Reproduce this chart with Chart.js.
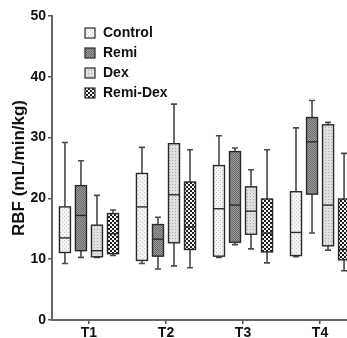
<!DOCTYPE html>
<html>
<head>
<meta charset="utf-8">
<script src="https://cdn.jsdelivr.net/npm/chart.js@4.4.1/dist/chart.umd.min.js"></script>
<style>
  html, body { margin: 0; padding: 0; background: #fff; }
  #wrap { width: 347px; height: 338px; }
</style>
</head>
<body>
<div id="wrap"><canvas id="rbfChart" width="347" height="338"></canvas></div>
<script>
// 시점 / 그룹
const timeLabels = ['T1', 'T2', 'T3', 'T4'];
const groupNames = ['Control', 'Remi', 'Dex', 'Remi-Dex'];

// [min, Q1, median, Q3, max] per time point
const control = [[9.3, 11.1, 13.5, 18.6, 29.2], [9.3, 9.8, 18.6, 24.1, 28.4], [10.3, 10.5, 18.3, 25.4, 30.3], [10.4, 10.6, 14.4, 21.1, 31.6]];
const remi    = [[10.3, 11.4, 17.2, 22.1, 26.2], [8.4, 10.5, 13.3, 15.7, 16.9], [12.4, 12.8, 18.9, 27.7, 28.3], [14.3, 20.7, 29.3, 33.3, 36.1]];
const dex     = [[10.3, 10.4, 11.4, 15.6, 20.5], [8.9, 12.7, 20.6, 29.0, 35.5], [11.7, 14.1, 17.9, 21.9, 24.7], [11.5, 12.2, 18.9, 32.1, 32.5]];
const remiDex = [[10.6, 10.9, 14.2, 17.5, 18.1], [8.6, 11.6, 15.3, 22.7, 28.0], [9.4, 11.2, 14.3, 19.9, 28.0], [8.1, 9.9, 11.6, 19.9, 27.4]];
const yTicks = [0, 10, 20, 30, 40, 50];

const series = [control, remi, dex, remiDex];
const groupOffsets = [-0.312, -0.104, 0.104, 0.312];
const boxWidth = 0.143;

const FONT = "'Liberation Sans', Arial, sans-serif";

// 패턴 만들기
function makePattern(size, draw) {
    const c = document.createElement('canvas');
    c.width = size; c.height = size;
    const g = c.getContext('2d');
    draw(g);
    return c;
}

const tiles = [
    makePattern(4, g => {
        g.fillStyle = '#f4f4f4'; g.fillRect(0, 0, 4, 4);
        g.fillStyle = '#c4c4c4'; g.fillRect(0, 0, 1, 1); g.fillRect(2, 2, 1, 1);
    }),
    makePattern(2, g => {
        g.fillStyle = '#9c9c9c'; g.fillRect(0, 0, 2, 2);
        g.fillStyle = '#6a6a6a'; g.fillRect(0, 0, 1, 1); g.fillRect(1, 1, 1, 1);
    }),
    makePattern(3, g => {
        g.fillStyle = '#e0e0e0'; g.fillRect(0, 0, 3, 3);
        g.fillStyle = '#a8a8a8'; g.fillRect(1, 1, 1, 1);
    }),
    makePattern(4, g => {
        g.fillStyle = '#f6f6f6'; g.fillRect(0, 0, 4, 4);
        g.fillStyle = '#1e1e1e'; g.fillRect(0, 0, 2, 2); g.fillRect(2, 2, 2, 2);
    })
];

const boxPlotPlugin = {
    id: 'boxPlot',
    afterDatasetsDraw(chart) {
        const ctx = chart.ctx;
        const x = chart.scales.x;
        const y = chart.scales.y;
        const area = chart.chartArea;

        ctx.save();
        ctx.beginPath();
        ctx.rect(area.left, 0, chart.width - area.left, area.bottom);
        ctx.clip();

        series.forEach((data, si) => {
            const pattern = ctx.createPattern(tiles[si], 'repeat');
            data.forEach((d, ti) => {
                const pos = ti + 1 + groupOffsets[si];
                const cx = x.getPixelForValue(pos);
                const half = (x.getPixelForValue(pos + boxWidth / 2) - x.getPixelForValue(pos - boxWidth / 2)) / 2;
                const [mn, q1, med, q3, mx] = d.map(v => y.getPixelForValue(v));

                // 수염
                ctx.strokeStyle = '#4a4a4a';
                ctx.lineWidth = 1.6;
                ctx.beginPath();
                ctx.moveTo(cx, mx); ctx.lineTo(cx, q3);
                ctx.moveTo(cx, q1); ctx.lineTo(cx, mn);
                ctx.moveTo(cx - 3, mx); ctx.lineTo(cx + 3, mx);
                ctx.moveTo(cx - 3, mn); ctx.lineTo(cx + 3, mn);
                ctx.stroke();

                // 상자
                ctx.fillStyle = pattern;
                ctx.fillRect(cx - half, q3, half * 2, q1 - q3);
                ctx.strokeStyle = '#2a2a2a';
                ctx.lineWidth = 1.4;
                ctx.strokeRect(cx - half, q3, half * 2, q1 - q3);

                // 중앙값
                ctx.beginPath();
                ctx.moveTo(cx - half, med); ctx.lineTo(cx + half, med);
                ctx.stroke();
            });
        });
        ctx.restore();

        // 범례
        ctx.save();
        ctx.font = 'bold 14px ' + FONT;
        ctx.textBaseline = 'middle';
        groupNames.forEach((name, i) => {
            const top = 28 + i * 20;
            ctx.fillStyle = ctx.createPattern(tiles[i], 'repeat');
            ctx.fillRect(85, top, 10, 10);
            ctx.strokeStyle = '#2a2a2a';
            ctx.lineWidth = 1.2;
            ctx.strokeRect(85, top, 10, 10);
            ctx.fillStyle = '#111';
            ctx.fillText(name, 103, top + 5.5);
        });
        ctx.restore();
    }
};

const ctx = document.getElementById('rbfChart').getContext('2d');
new Chart(ctx, {
    type: 'scatter',
    data: {
        datasets: series.map((data, si) => ({
            label: groupNames[si],
            data: data.map((d, ti) => ({ x: ti + 1 + groupOffsets[si], y: d[2] })),
            pointRadius: 0,
            showLine: false
        }))
    },
    options: {
        responsive: false,
        animation: false,
        layout: { padding: { top: 16, right: 0, bottom: 0, left: 0 } },
        plugins: {
            legend: { display: false },
            tooltip: { enabled: false }
        },
        scales: {
            x: {
                type: 'linear',
                min: 0.52,
                max: 4.35,
                afterBuildTicks: scale => {
                    scale.ticks = timeLabels.map((t, i) => ({ value: i + 1 }));
                },
                afterFit: scale => { scale.height = 18; },
                ticks: {
                    autoSkip: false,
                    maxRotation: 0,
                    padding: 1,
                    color: '#111',
                    font: { family: FONT, size: 14, weight: 'bold' },
                    callback: v => timeLabels[v - 1]
                },
                grid: { drawOnChartArea: false, tickLength: 4, color: '#555', lineWidth: 1.5 },
                border: { color: '#666', width: 2 }
            },
            y: {
                min: 0,
                max: 50,
                afterBuildTicks: scale => {
                    scale.ticks = yTicks.map(v => ({ value: v }));
                },
                afterFit: scale => { scale.width = 52; },
                ticks: {
                    padding: 2,
                    color: '#111',
                    font: { family: FONT, size: 14, weight: 'bold' }
                },
                title: {
                    display: true,
                    text: 'RBF (mL/min/kg)',
                    color: '#111',
                    padding: { top: 9, bottom: 0 },
                    font: { family: FONT, size: 17, weight: 'bold' }
                },
                grid: { drawOnChartArea: false, tickLength: 4, color: '#555', lineWidth: 1.5 },
                border: { color: '#666', width: 2 }
            }
        }
    },
    plugins: [boxPlotPlugin]
});
</script>
</body>
</html>
